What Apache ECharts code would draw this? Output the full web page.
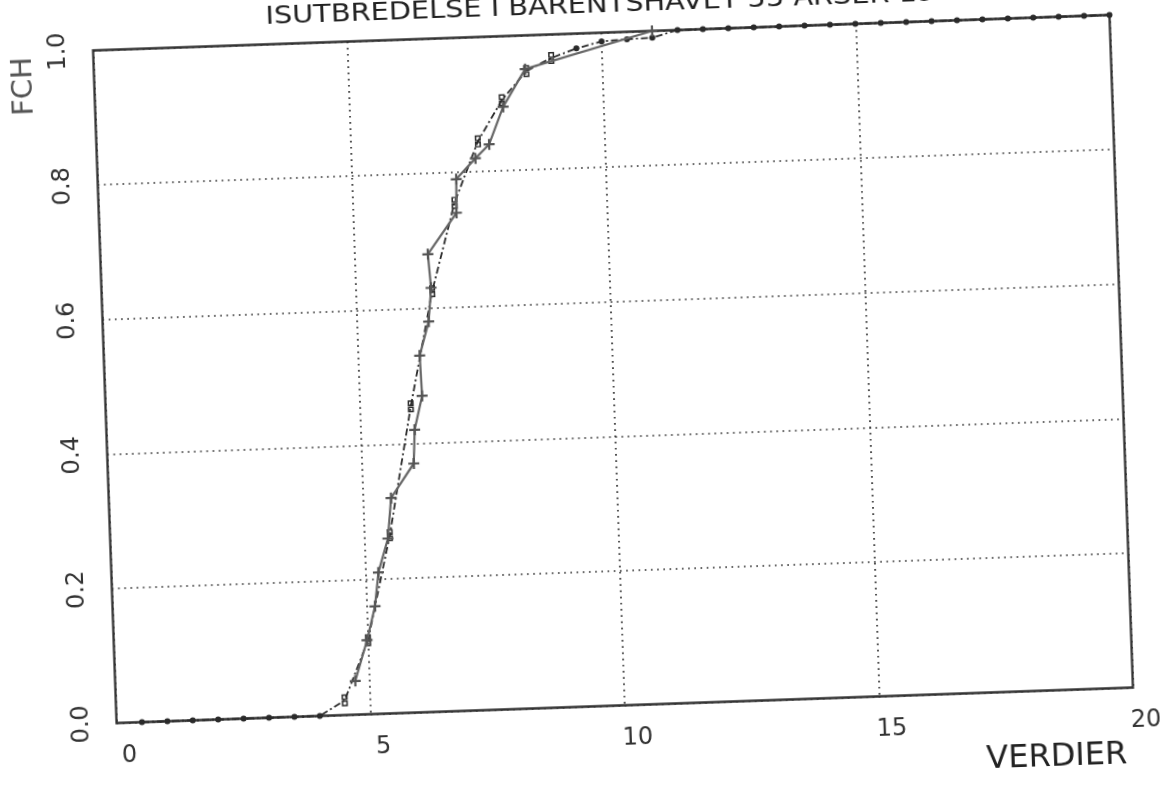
<!DOCTYPE html>
<html>
<head>
<meta charset="utf-8">
<title>Isutbredelse i Barentshavet</title>
<script src="https://cdn.jsdelivr.net/npm/echarts@6/dist/echarts.min.js"></script>
<style>
  html, body { margin: 0; padding: 0; background: #fff; overflow: hidden; width: 1160px; height: 786px; }
  /* the plotted sheet sits slightly tilted; the stage is oversized so nothing is cut before the tilt */
  #chart {
    position: absolute; left: -40px; top: -40px;
    width: 1240px; height: 866px;
    transform-origin: 653px 409px;
    transform: rotate(-2deg);
    background: #fff;
  }
</style>
</head>
<body>
<div id="chart"></div>
<script>
// Tick labels
const xTickLabels = ['0', '5', '10', '15', '20'];
const yTickLabels = ['0.0', '0.2', '0.4', '0.6', '0.8', '1.0'];

// Empirical cumulative frequencies (solid line, + markers)
const empX = [4.72, 4.98, 5.16, 5.25, 5.46, 5.55, 6.02, 6.06, 6.23, 6.21, 6.41, 6.48, 6.44, 7.03, 7.05, 7.44, 7.72, 8.02, 8.48, 11.0];
const empF = [0.05, 0.11, 0.16, 0.21, 0.26, 0.32, 0.37, 0.42, 0.47, 0.53, 0.58, 0.63, 0.68, 0.74, 0.79, 0.82, 0.84, 0.895, 0.95, 1.0];

// Fitted distribution evaluated on a 0.5 grid (dashed line)
const fitX = [0.5, 1.0, 1.5, 2.0, 2.5, 3.0, 3.5, 4.0, 4.5, 5.0, 5.5, 6.0, 6.5, 7.0, 7.5, 8.0, 8.5, 9.0, 9.5, 10.0,
              10.5, 11.0, 11.5, 12.0, 12.5, 13.0, 13.5, 14.0, 14.5, 15.0, 15.5, 16.0, 16.5, 17.0, 17.5, 18.0, 18.5, 19.0, 19.5, 20.0];
const fitF = [0, 0, 0, 0, 0, 0, 0, 0, 0.022, 0.11, 0.265, 0.455, 0.625, 0.755, 0.845, 0.905, 0.947, 0.965, 0.978, 0.987,
              0.989, 0.99, 1, 1, 1, 1, 1, 1, 1, 1, 1, 1, 1, 1, 1, 1, 1, 1, 1, 1];

const titleText = 'ISUTBREDELSE I BARENTSHAVET 55 ÅRSER 19';
const xName = 'VERDIER';
const yName = 'FCH';

const INK = '#333';
const FONT = 'DejaVu Sans';

const plusSymbol = 'path://M4,0h2v10h-2z M0,4h10v2h-10z';
const pairSymbol = 'path://M0,0h6v6h-6z M1.5,1.5v3h3v-3z M0,6.5h6v6h-6z M1.5,8v3h3v-3z';

const empData = empX.map((x, i) => [x, empF[i]]);
const fitData = fitX.map((x, i) => {
  const inner = fitF[i] > 0 && x <= 9.0;
  return inner
    ? { value: [x, fitF[i]], symbol: pairSymbol, symbolSize: [6, 12] }
    : { value: [x, fitF[i]], symbol: 'circle', symbolSize: 6 };
});

const chart = echarts.init(document.getElementById('chart'), null, { renderer: 'canvas' });

chart.setOption({
  animation: false,
  backgroundColor: '#fff',
  grid: {
    left: 144.5, top: 72.5, width: 1017, height: 673,
    show: true, borderColor: '#333', borderWidth: 2.3, backgroundColor: 'transparent'
  },
  xAxis: {
    type: 'value', min: 0, max: 20, interval: 5,
    axisLine: { show: false }, axisTick: { show: false },
    splitLine: { show: true, lineStyle: { color: '#333', width: 1.7, type: [1.7, 4.5] } },
    axisLabel: {
      color: INK, fontFamily: FONT, fontSize: 24, margin: 21, padding: [0, 0, 0, 24],
      formatter: v => xTickLabels[Math.round(v / 5)]
    }
  },
  yAxis: {
    type: 'value', min: 0, max: 1, interval: 0.2,
    axisLine: { show: false }, axisTick: { show: false },
    splitLine: { show: true, lineStyle: { color: '#333', width: 1.7, type: [1.7, 4.5] } },
    axisLabel: {
      color: INK, fontFamily: FONT, fontSize: 24, margin: 23, rotate: 90,
      formatter: v => yTickLabels[Math.round(v / 0.2)]
    }
  },
  graphic: [
    {
      type: 'text', x: 318, y: 46, scaleX: 1.2,
      style: { text: titleText, fill: '#222', font: '24px "DejaVu Sans"', textAlign: 'left', textVerticalAlign: 'middle' }
    },
    {
      type: 'text', x: 74, y: 106, rotation: Math.PI / 2,
      style: { text: yName, fill: '#555', font: '29px "DejaVu Sans"', textAlign: 'center', textVerticalAlign: 'middle' }
    },
    {
      type: 'text', x: 1083, y: 813,
      style: { text: xName, fill: '#222', font: '32px "DejaVu Sans"', textAlign: 'center', textVerticalAlign: 'middle' }
    }
  ],
  series: [
    {
      name: 'Tilpasset',
      type: 'line',
      data: fitData,
      clip: false,
      z: 3,
      lineStyle: { color: '#2a2a2a', width: 1.8, type: [7, 3, 2, 3] },
      itemStyle: { color: '#2a2a2a' }
    },
    {
      name: 'Empirisk',
      type: 'line',
      data: empData,
      clip: false,
      z: 4,
      symbol: plusSymbol,
      symbolSize: 11,
      lineStyle: { color: '#666', width: 2.2 },
      itemStyle: { color: '#555' }
    }
  ]
});
</script>
</body>
</html>
